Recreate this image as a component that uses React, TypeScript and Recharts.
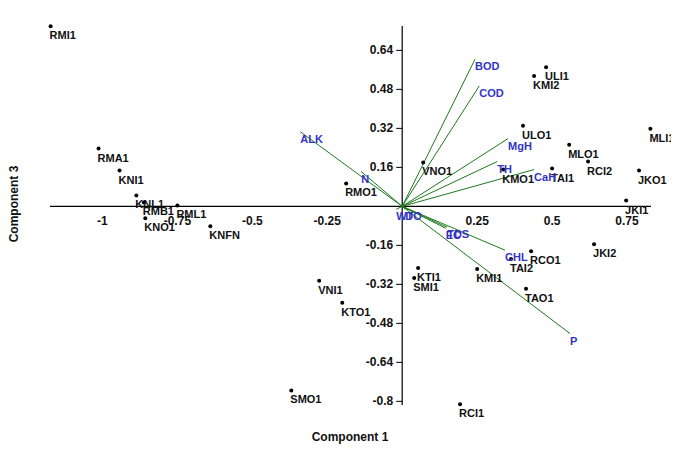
import React from 'react';
import { ScatterChart, Scatter, XAxis, YAxis, ReferenceLine } from 'recharts';

// sample sites (component 1, component 3)
const siteNames = ['RMI1', 'RMA1', 'KNI1', 'KNL1', 'RMB1', 'RML1', 'KNO1', 'KNFN', 'RMO1', 'VNO1', 'ULI1', 'KMI2', 'ULO1', 'MLI1', 'MLO1', 'RCI2', 'TAI1', 'KMO1', 'JKO1', 'JKI1', 'JKI2', 'RCO1', 'TAI2', 'KTI1', 'SMI1', 'KMI1', 'TAO1', 'VNI1', 'KTO1', 'SMO1', 'RCI1'];
const siteComp1 = [-1.173, -1.013, -0.943, -0.887, -0.862, -0.75, -0.857, -0.64, -0.187, 0.07, 0.48, 0.44, 0.403, 0.828, 0.557, 0.62, 0.5, 0.337, 0.79, 0.747, 0.64, 0.43, 0.363, 0.053, 0.04, 0.25, 0.413, -0.277, -0.2, -0.37, 0.193];
const siteComp3 = [0.739, 0.237, 0.147, 0.045, 0.016, 0.004, -0.049, -0.082, 0.094, 0.18, 0.571, 0.535, 0.331, 0.318, 0.253, 0.184, 0.155, 0.151, 0.147, 0.024, -0.155, -0.184, -0.216, -0.253, -0.294, -0.257, -0.338, -0.305, -0.395, -0.755, -0.812];

// parameter loadings
const paramNames = ['BOD', 'COD', 'MgH', 'TH', 'CaH', 'ALK', 'N', 'CHL', 'P', 'TDS', 'EC', 'WT', 'DO'];
const paramComp1 = [0.243, 0.257, 0.353, 0.317, 0.44, -0.34, -0.137, 0.343, 0.56, 0.15, 0.145, -0.02, 0.01];
const paramComp3 = [0.604, 0.494, 0.278, 0.184, 0.151, 0.306, 0.143, -0.18, -0.522, -0.086, -0.09, -0.012, -0.012];

const xTicks = [-1, -0.75, -0.5, -0.25, 0.25, 0.5, 0.75];
const yTicks = [0.64, 0.48, 0.32, 0.16, -0.16, -0.32, -0.48, -0.64, -0.8];

const sites = siteNames.map((name, i) => ({ name, x: siteComp1[i], y: siteComp3[i] }));
const params = paramNames.map((name, i) => ({ name, x: paramComp1[i], y: paramComp3[i] }));

const W = 671;
const H = 447;
const margin = { top: 18, right: 28, bottom: 49, left: 41 };
const xDomain: [number, number] = [-1.175, 0.83];
const yDomain: [number, number] = [-0.815, 0.74];
// axes take 1px each
const plotW = W - margin.left - margin.right - 1;
const plotH = H - margin.top - margin.bottom - 1;
const zeroX = margin.left + 1 + (plotW * (0 - xDomain[0])) / (xDomain[1] - xDomain[0]);
const zeroY = margin.top + (plotH * (yDomain[1] - 0)) / (yDomain[1] - yDomain[0]);

const font = '"Liberation Sans", Arial, sans-serif';

const XTick: React.FC<any> = ({ x, payload }) => (
  <text x={x} y={zeroY + 19} textAnchor="middle" fontFamily={font} fontSize={12} fontWeight="bold" fill="#111">
    {String(payload.value)}
  </text>
);

const YTick: React.FC<any> = ({ y, payload }) => (
  <g>
    <line x1={zeroX - 6} x2={zeroX} y1={y} y2={y} stroke="#000" />
    <text x={zeroX - 9} y={y + 4} textAnchor="end" fontFamily={font} fontSize={12} fontWeight="bold" fill="#111">
      {String(payload.value)}
    </text>
  </g>
);

const SitePoint: React.FC<any> = ({ cx, cy, payload }) => (
  <g>
    <circle cx={cx} cy={cy} r={2} fill="#000" />
    <text x={cx - 1} y={cy + 13} fontFamily={font} fontSize={11} fontWeight="bold" fill="#111">
      {payload.name}
    </text>
  </g>
);

const ParamLabel: React.FC<any> = ({ cx, cy, payload }) => (
  <text x={cx} y={cy + 11} fontFamily={font} fontSize={11} fontWeight="bold" fill="#3434c4">
    {payload.name}
  </text>
);

export default function App() {
  return (
    <div style={{ position: 'relative', width: W, height: H, background: '#fff' }}>
      <ScatterChart width={W} height={H} margin={margin}>
        <XAxis
          type="number"
          dataKey="x"
          domain={xDomain}
          ticks={xTicks}
          interval={0}
          axisLine={false}
          tickLine={false}
          height={1}
          tick={<XTick />}
        />
        <YAxis
          type="number"
          dataKey="y"
          domain={yDomain}
          ticks={yTicks}
          interval={0}
          axisLine={false}
          tickLine={false}
          width={1}
          tick={<YTick />}
        />
        <ReferenceLine x={0} stroke="#000" strokeWidth={1.2} />
        <ReferenceLine y={0} stroke="#000" strokeWidth={1.2} />
        {params.map((p) => (
          <ReferenceLine
            key={p.name}
            segment={[{ x: 0, y: 0 }, { x: p.x, y: p.y }]}
            stroke="#1d7a1d"
            strokeWidth={1}
          />
        ))}
        <Scatter data={sites} shape={<SitePoint />} isAnimationActive={false} />
        <Scatter data={params} shape={<ParamLabel />} isAnimationActive={false} />
      </ScatterChart>
      <div
        style={{
          position: 'absolute',
          left: 350 - 8 - 60,
          width: 120,
          top: 438 - 8 - 8,
          textAlign: 'center',
          fontFamily: font,
          fontSize: 12,
          fontWeight: 'bold',
          color: '#111',
        }}
      >
        Component 1
      </div>
      <div
        style={{
          position: 'absolute',
          left: 14 - 8 - 60,
          width: 120,
          top: 205 - 8 - 8,
          textAlign: 'center',
          fontFamily: font,
          fontSize: 12,
          fontWeight: 'bold',
          color: '#111',
          transform: 'rotate(-90deg)',
        }}
      >
        Component 3
      </div>
    </div>
  );
}
